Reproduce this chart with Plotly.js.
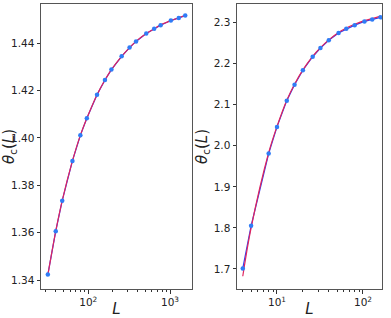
<!DOCTYPE html>
<html>
<head>
<meta charset="utf-8">
<script src="https://cdn.plot.ly/plotly-3.0.1.min.js"></script>
<style>
  html, body { margin: 0; padding: 0; background: #fff; }
  #chart { width: 391px; height: 318px; }
</style>
</head>
<body>
<div id="chart"></div>
<script>
// Left panel: system sizes and critical values
const sizesA = [32, 40, 48, 64, 80, 96, 128, 160, 192, 256, 320, 384, 512, 640, 768, 1024, 1280, 1536];
const thetaA = [1.3423, 1.3606, 1.3735, 1.3903, 1.4011, 1.4083, 1.4183, 1.4245, 1.4289, 1.4345,
                1.4382, 1.4408, 1.4441, 1.4461, 1.4476, 1.4496, 1.4507, 1.4517];
const fitThetaA = [1.3420, 1.3606, 1.3735, 1.3903, 1.4011, 1.4083, 1.4183, 1.4245, 1.4289, 1.4345,
                   1.4382, 1.4408, 1.4441, 1.4461, 1.4478, 1.4496, 1.4508, 1.4518];

// Right panel
const sizesB = [4, 5, 8, 10, 13, 16, 20, 26, 32, 40, 52, 64, 80, 104, 128, 160];
const thetaB = [1.701, 1.805, 1.981, 2.046, 2.110, 2.149, 2.184, 2.217, 2.238, 2.257,
                2.275, 2.285, 2.294, 2.303, 2.308, 2.313];
const fitThetaB = [1.682, 1.800, 1.983, 2.047, 2.111, 2.150, 2.185, 2.218, 2.239, 2.258,
                   2.276, 2.287, 2.296, 2.305, 2.310, 2.316];

const blue = '#2f7cf6';
const red = '#e0245e';
const axisColor = '#555';
const font = { family: 'DejaVu Sans, sans-serif', size: 10.5, color: '#222' };
const titleFont = { family: 'DejaVu Sans, sans-serif', size: 15, color: '#222' };

function dataTraces(x, y, fy, xa, ya) {
    return [
        { x: x, y: y, xaxis: xa, yaxis: ya, type: 'scatter', mode: 'lines',
          line: { color: '#3040f0', width: 1.2 }, hoverinfo: 'skip' },
        { x: x, y: fy, xaxis: xa, yaxis: ya, type: 'scatter', mode: 'lines',
          line: { color: red, width: 1.2, shape: 'spline' }, hoverinfo: 'skip' },
        { x: x, y: y, xaxis: xa, yaxis: ya, type: 'scatter', mode: 'markers',
          marker: { color: blue, size: 4.5 } }
    ];
}

function minorVals(lo, hi) {
    const out = [];
    for (let d = lo; d <= hi; d *= 10) {
        for (let k = 2; k <= 9; k++) out.push(d * k);
    }
    return out;
}

function xAxis(domain, range, majors, labels, minors, anchor) {
    return {
        type: 'log', domain: domain, range: range, anchor: anchor,
        tickmode: 'array', tickvals: majors, ticktext: labels,
        ticks: 'outside', ticklen: 3.5, tickcolor: '#333',
        minor: { tickmode: 'array', tickvals: minors, ticks: 'outside', ticklen: 2, tickcolor: '#333' },
        showline: true, mirror: true, linecolor: axisColor, linewidth: 1,
        showgrid: false, zeroline: false, tickfont: font,
        title: { text: '<i>L</i>', font: titleFont, standoff: 2 }
    };
}

function yAxis(domain, range, tickvals, fmt, anchor) {
    return {
        domain: domain, range: range, anchor: anchor,
        tickmode: 'array', tickvals: tickvals, tickformat: fmt,
        ticks: 'outside', ticklen: 3.5, tickcolor: '#333',
        showline: true, mirror: true, linecolor: axisColor, linewidth: 1,
        showgrid: false, zeroline: false, tickfont: font,
        title: { text: '<i>θ</i><sub>c</sub>(<i>L</i>)', font: titleFont, standoff: 2 }
    };
}

const yDomain = [29 / 318, 314 / 318];

const traces = [
    ...dataTraces(sizesA, thetaA, fitThetaA, 'x', 'y'),
    ...dataTraces(sizesB, thetaB, fitThetaB, 'x2', 'y2')
];

const layout = {
    width: 391, height: 318,
    margin: { l: 0, r: 0, t: 0, b: 0 },
    paper_bgcolor: '#fff', plot_bgcolor: '#fff',
    showlegend: false, font: font,
    xaxis: xAxis([41 / 391, 192 / 391], [Math.log10(26.4), Math.log10(1858)],
                 [100, 1000], ['10<sup>2</sup>', '10<sup>3</sup>'], minorVals(10, 1000), 'y'),
    yaxis: yAxis(yDomain, [1.3362, 1.4566], [1.34, 1.36, 1.38, 1.40, 1.42, 1.44], '.2f', 'x'),
    xaxis2: xAxis([237 / 391, 382 / 391], [0.535, 2.221],
                  [10, 100], ['10<sup>1</sup>', '10<sup>2</sup>'], minorVals(1, 100), 'y2'),
    yaxis2: yAxis(yDomain, [1.651, 2.3455], [1.7, 1.8, 1.9, 2.0, 2.1, 2.2, 2.3], '.1f', 'x2')
};

Plotly.newPlot('chart', traces, layout, { staticPlot: true, displayModeBar: false });
</script>
</body>
</html>
